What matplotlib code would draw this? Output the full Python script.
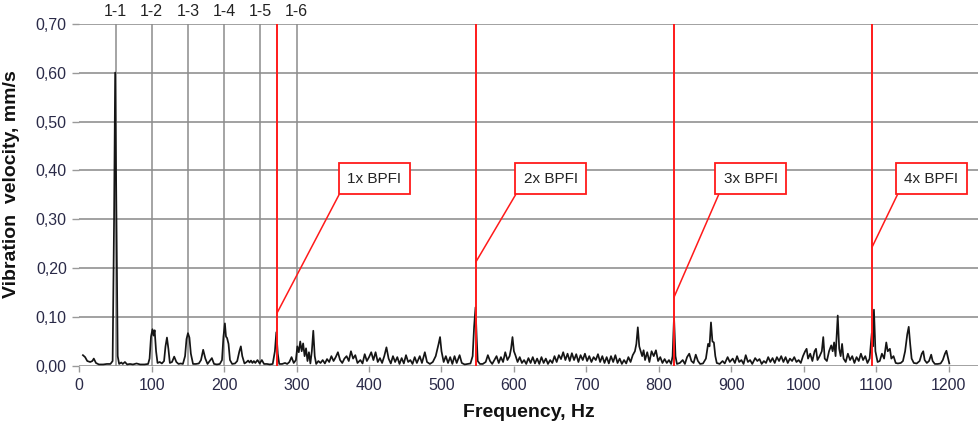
import matplotlib
matplotlib.use('Agg')
import matplotlib.pyplot as plt
import matplotlib.transforms as transforms
from matplotlib.ticker import FuncFormatter

plt.rcParams['font.family'] = ['Liberation Sans', 'DejaVu Sans']

# vibration velocity spectrum, (frequency Hz, velocity mm/s) vertices
spectrum_pts = [
    (5, 0.022), (8, 0.018), (11, 0.010), (15, 0.008), (18, 0.010), (20, 0.015), (23, 0.006),
    (27, 0.003), (33, 0.003), (38, 0.004), (43, 0.004), (46, 0.010), (48, 0.30), (49.5, 0.60),
    (51, 0.35), (53, 0.02), (55, 0.004), (58, 0.007), (60, 0.004), (63, 0.008), (66, 0.003),
    (70, 0.004), (74, 0.003), (79, 0.005), (84, 0.003), (90, 0.003), (95, 0.004), (97, 0.015),
    (99, 0.060), (101, 0.075), (102.5, 0.062), (104, 0.073), (106, 0.030), (108, 0.006),
    (111, 0.008), (114, 0.005), (117, 0.010), (119, 0.040), (121, 0.058), (123, 0.035),
    (125, 0.006), (128, 0.008), (131, 0.019), (134, 0.008), (137, 0.004), (140, 0.005),
    (143, 0.004), (146, 0.020), (148, 0.055), (150, 0.067), (152, 0.058), (154, 0.025),
    (157, 0.004), (161, 0.004), (165, 0.005), (168, 0.012), (171, 0.033), (174, 0.015),
    (177, 0.004), (180, 0.010), (183, 0.016), (186, 0.004), (190, 0.003), (194, 0.004),
    (197, 0.012), (199, 0.060), (201, 0.087), (202.5, 0.060), (204, 0.057), (206, 0.045),
    (208, 0.012), (211, 0.004), (215, 0.005), (218, 0.010), (221, 0.030), (223, 0.040),
    (225, 0.020), (228, 0.005), (231, 0.008), (233, 0.011), (235, 0.007), (237, 0.011),
    (239, 0.006), (241, 0.010), (243, 0.006), (246, 0.012), (249, 0.005), (252, 0.012),
    (255, 0.004), (259, 0.004), (263, 0.003), (267, 0.004), (270, 0.030), (272, 0.069),
    (274, 0.025), (276, 0.004), (280, 0.004), (284, 0.006), (287, 0.004), (290, 0.008),
    (293, 0.018), (296, 0.006), (299, 0.012), (301, 0.040), (303, 0.028), (305, 0.050),
    (307, 0.030), (309, 0.046), (311, 0.020), (313, 0.036), (315, 0.010), (317, 0.028),
    (319, 0.005), (321, 0.030), (323, 0.072), (325, 0.020), (327, 0.004), (330, 0.010),
    (333, 0.006), (336, 0.012), (339, 0.005), (342, 0.014), (345, 0.008), (348, 0.020),
    (351, 0.010), (354, 0.018), (357, 0.028), (360, 0.012), (363, 0.006), (366, 0.015),
    (369, 0.020), (372, 0.010), (375, 0.030), (378, 0.015), (381, 0.022), (384, 0.006),
    (388, 0.012), (391, 0.005), (394, 0.024), (397, 0.010), (400, 0.018), (403, 0.028),
    (406, 0.012), (409, 0.028), (412, 0.008), (415, 0.016), (418, 0.006), (421, 0.020),
    (424, 0.038), (427, 0.015), (430, 0.005), (433, 0.020), (436, 0.008), (439, 0.018),
    (442, 0.004), (445, 0.016), (448, 0.005), (451, 0.022), (454, 0.008), (457, 0.012),
    (460, 0.004), (463, 0.018), (466, 0.006), (470, 0.020), (473, 0.006), (477, 0.028),
    (480, 0.008), (484, 0.004), (488, 0.008), (492, 0.020), (496, 0.045), (498, 0.059),
    (500, 0.030), (503, 0.008), (506, 0.020), (509, 0.006), (512, 0.018), (515, 0.004),
    (518, 0.020), (521, 0.006), (525, 0.022), (528, 0.006), (532, 0.003), (536, 0.004),
    (540, 0.005), (543, 0.020), (545, 0.080), (547, 0.120), (548.5, 0.060), (550, 0.010),
    (553, 0.004), (557, 0.004), (561, 0.008), (564, 0.022), (567, 0.010), (570, 0.004),
    (573, 0.012), (576, 0.020), (579, 0.006), (582, 0.018), (585, 0.008), (588, 0.028),
    (591, 0.012), (594, 0.020), (596, 0.035), (598, 0.059), (600, 0.030), (602, 0.022),
    (605, 0.008), (608, 0.018), (611, 0.006), (614, 0.012), (617, 0.004), (620, 0.016),
    (623, 0.006), (626, 0.018), (629, 0.005), (632, 0.015), (635, 0.004), (638, 0.018),
    (641, 0.006), (644, 0.015), (647, 0.004), (650, 0.012), (653, 0.006), (656, 0.020),
    (659, 0.008), (662, 0.022), (665, 0.014), (668, 0.028), (671, 0.012), (674, 0.025),
    (677, 0.010), (680, 0.026), (683, 0.012), (686, 0.024), (689, 0.008), (692, 0.022),
    (695, 0.012), (698, 0.025), (701, 0.010), (704, 0.020), (707, 0.008), (710, 0.018),
    (713, 0.012), (716, 0.024), (719, 0.008), (722, 0.020), (725, 0.006), (728, 0.018),
    (731, 0.005), (734, 0.020), (737, 0.008), (740, 0.022), (743, 0.006), (746, 0.015),
    (749, 0.004), (752, 0.012), (755, 0.005), (758, 0.018), (761, 0.008), (764, 0.022),
    (767, 0.030), (769, 0.045), (771, 0.079), (773, 0.040), (775, 0.030), (777, 0.020),
    (779, 0.032), (781, 0.012), (784, 0.028), (787, 0.008), (790, 0.030), (793, 0.020),
    (796, 0.032), (799, 0.010), (802, 0.018), (805, 0.006), (808, 0.014), (811, 0.006),
    (814, 0.012), (817, 0.004), (819, 0.020), (821, 0.100), (823, 0.020), (825, 0.004),
    (829, 0.006), (833, 0.012), (836, 0.004), (839, 0.018), (842, 0.025), (845, 0.010),
    (848, 0.006), (851, 0.023), (854, 0.010), (857, 0.004), (861, 0.005), (865, 0.015),
    (868, 0.045), (870, 0.040), (872, 0.089), (874, 0.050), (876, 0.048), (878, 0.020),
    (880, 0.006), (884, 0.004), (888, 0.010), (891, 0.005), (895, 0.018), (898, 0.008),
    (902, 0.015), (905, 0.006), (908, 0.020), (911, 0.008), (914, 0.012), (917, 0.004),
    (920, 0.022), (923, 0.008), (926, 0.012), (929, 0.004), (933, 0.016), (936, 0.010),
    (939, 0.014), (942, 0.004), (945, 0.010), (948, 0.006), (951, 0.018), (954, 0.008),
    (957, 0.016), (960, 0.006), (963, 0.018), (966, 0.010), (969, 0.020), (972, 0.008),
    (975, 0.018), (978, 0.006), (981, 0.015), (984, 0.010), (987, 0.018), (990, 0.008),
    (993, 0.012), (996, 0.006), (999, 0.020), (1002, 0.030), (1004, 0.035), (1006, 0.015),
    (1009, 0.025), (1012, 0.010), (1015, 0.030), (1017, 0.035), (1019, 0.012), (1022, 0.020),
    (1025, 0.030), (1027, 0.059), (1029, 0.015), (1032, 0.010), (1035, 0.030), (1038, 0.042),
    (1040, 0.030), (1042, 0.048), (1044, 0.020), (1047, 0.103), (1049, 0.035), (1051, 0.020),
    (1053, 0.045), (1055, 0.015), (1058, 0.008), (1061, 0.025), (1064, 0.012), (1067, 0.020),
    (1070, 0.006), (1073, 0.018), (1076, 0.010), (1079, 0.025), (1082, 0.012), (1085, 0.020),
    (1088, 0.006), (1091, 0.015), (1094, 0.067), (1095.5, 0.040), (1097, 0.115), (1099, 0.030),
    (1102, 0.008), (1105, 0.010), (1108, 0.025), (1111, 0.015), (1114, 0.048), (1116, 0.030),
    (1119, 0.035), (1121, 0.015), (1124, 0.020), (1127, 0.006), (1130, 0.005), (1134, 0.006),
    (1137, 0.010), (1140, 0.030), (1143, 0.065), (1145, 0.080), (1147, 0.045), (1149, 0.015),
    (1152, 0.006), (1156, 0.005), (1160, 0.010), (1163, 0.025), (1165, 0.030), (1167, 0.012),
    (1170, 0.006), (1173, 0.010), (1176, 0.023), (1178, 0.010), (1181, 0.004), (1185, 0.004),
    (1189, 0.005), (1192, 0.012), (1195, 0.025), (1197, 0.031), (1199, 0.018), (1201, 0.005),
]

# shaft harmonics (grey markers) and inner race fault harmonics (red markers)
harm_freq = [50, 100, 150, 200, 250, 300]
harm_labels = ['1-1', '1-2', '1-3', '1-4', '1-5', '1-6']
bpfi = 273.6
bpfi_orders = [1, 2, 3, 4]
bpfi_labels = ['1x BPFI', '2x BPFI', '3x BPFI', '4x BPFI']
leader_y = [0.11, 0.212, 0.14, 0.243]
box_x = [407, 651, 927, 1176]
box_rel = [0.45, 0.35, 0.2, 0.35]

x_ticks = list(range(0, 1201, 100))
y_ticks = [0.0, 0.1, 0.2, 0.3, 0.4, 0.5, 0.6, 0.7]

freq = [p[0] for p in spectrum_pts]
amp = [p[1] for p in spectrum_pts]

fig = plt.figure(figsize=(9.79, 4.24), dpi=100)
ax = fig.add_axes([0.081, 0.137, 0.919, 0.807])
ax.set_xlim(0, 1242)
ax.set_ylim(0, 0.70)

for s in ax.spines.values():
    s.set_visible(False)

grid_col = '#9a9a9a'
for y in y_ticks:
    ax.axhline(y, color=grid_col, lw=1.3, zorder=1)

trans = transforms.blended_transform_factory(ax.transData, ax.transAxes)
for f, lab in zip(harm_freq, harm_labels):
    ax.axvline(f, color='#8c8c8c', lw=1.1, zorder=1)
    ax.text(f, 1.035, lab, transform=trans, ha='center', va='center',
            fontsize=11.5, color='#222222')

ax.plot(freq, amp, color='#151515', lw=1.25, zorder=3)

for k, lab, ly, bx, rel in zip(bpfi_orders, bpfi_labels, leader_y, box_x, box_rel):
    fk = bpfi * k
    ax.plot([fk, fk], [0, 0.70], color='#ff1a1a', lw=1.4, zorder=4)
    ax.annotate(lab, xy=(fk, ly), xytext=(bx, 0.383), ha='center', va='center',
                fontsize=11, color='#222222', zorder=5,
                bbox=dict(boxstyle='square,pad=0.55', fc='white', ec='#ff1a1a', lw=1.3),
                arrowprops=dict(arrowstyle='-', color='#ff1a1a', lw=1.1,
                                relpos=(0, rel), shrinkA=0, shrinkB=0))

ax.set_xticks(x_ticks)
ax.set_yticks(y_ticks)
ax.yaxis.set_major_formatter(FuncFormatter(lambda v, p: ('%.2f' % v).replace('.', ',')))
ax.tick_params(axis='x', length=4, width=1, color=grid_col, labelsize=11.5,
               labelcolor='#2a2a48', pad=5)
ax.tick_params(axis='y', length=5, width=1, color=grid_col, labelsize=11.5,
               labelcolor='#2a2a48', pad=4)

ax.set_xlabel('Frequency, Hz', fontsize=14, fontweight='bold', color='#111111', va='center')
ax.xaxis.set_label_coords(0.5, -0.135)
ax.set_ylabel('Vibration  velocity, mm/s', fontsize=14, fontweight='bold', color='#111111')
ax.yaxis.set_label_coords(-0.066, 0.53)

fig.savefig('out.png', dpi=100)
